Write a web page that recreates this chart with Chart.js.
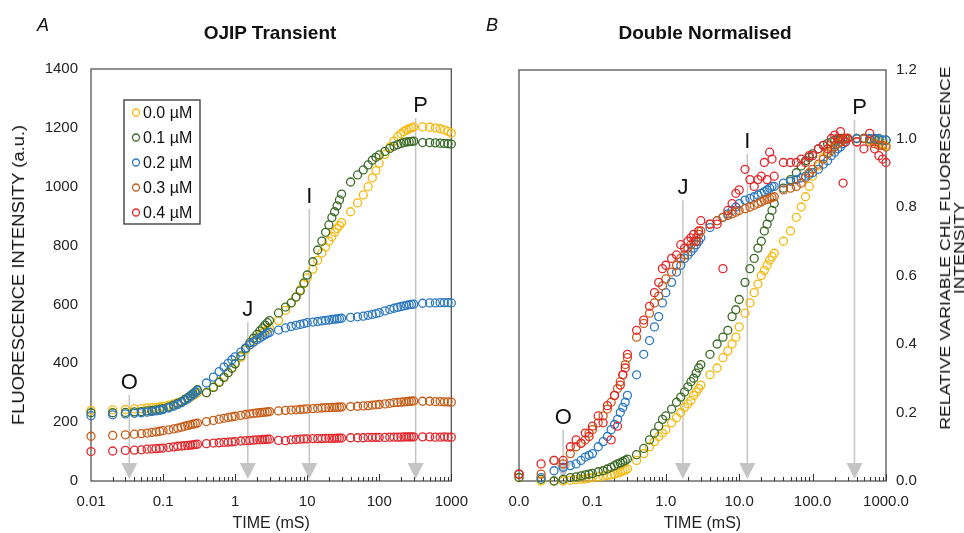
<!DOCTYPE html>
<html>
<head>
<meta charset="utf-8">
<script src="https://cdn.jsdelivr.net/npm/chart.js@4.4.1/dist/chart.umd.min.js"></script>
<style>
  body { margin: 0; background: #fff; font-family: "Liberation Sans", Arial, sans-serif; }
  #wrap { position: relative; width: 964px; height: 533px; overflow: hidden; }
  canvas { position: absolute; top: 0; }
  .txt { position: absolute; color: #111; white-space: nowrap; line-height: 20px; }
  .rot { position: absolute; color: #111; white-space: nowrap; text-align: center; }
</style>
</head>
<body>
<div id="wrap">
  <canvas id="chartA" width="480" height="533" style="left:0px"></canvas>
  <canvas id="chartB" width="484" height="533" style="left:480px"></canvas>
  <div class="txt" style="left:37px;top:15px;font-size:18px;font-style:italic">A</div>
  <div class="txt" style="left:170px;top:23px;width:200px;text-align:center;font-size:19px;font-weight:bold">OJIP Transient</div>
  <div class="txt" style="left:486px;top:15px;font-size:18px;font-style:italic">B</div>
  <div class="txt" style="left:605px;top:23px;width:200px;text-align:center;font-size:19px;font-weight:bold">Double Normalised</div>
  <div class="rot" style="left:19px;top:275px;font-size:16px;line-height:16px;transform:translate(-50%,-50%) rotate(-90deg) scaleX(1.15)">FLUORESCENCE INTENSITY (a.u.)</div>
  <div class="rot" style="left:952px;top:248px;font-size:14px;line-height:14px;transform:translate(-50%,-50%) rotate(-90deg) scaleX(1.26)">RELATIVE VARIABLE CHL FLUORESCENCE<br>INTENSITY</div>
</div>
<script>
const FONT = '"Liberation Sans", Arial, sans-serif'

// sample times (ms), shared by every series
const times = [
  0.01, 0.02, 0.03, 0.04, 0.05, 0.06, 0.07, 0.08, 0.09, 0.1, 0.12, 0.14, 0.16, 0.18, 0.2, 0.22, 0.24, 0.26, 0.28, 0.3,
  0.4, 0.5, 0.6, 0.7, 0.8, 0.9, 1, 1.2, 1.4, 1.6, 1.8, 2, 2.2, 2.4, 2.6, 2.8, 3,
  4, 5, 6, 7, 8, 9, 10, 12, 14, 16, 18, 20, 22, 24, 26, 28, 30,
  40, 50, 60, 70, 80, 90, 100, 120, 140, 160, 180, 200, 220, 240, 260, 280, 300,
  400, 500, 600, 700, 800, 900, 1000,
]

const seriesNames = ['0.0 µM', '0.1 µM', '0.2 µM', '0.3 µM', '0.4 µM']
const seriesColors = ['#f4b90f', '#3b6a27', '#2b78c0', '#c65b16', '#e2262b']

// panel A: raw fluorescence (a.u.)
const rawY0 = [
  240, 242, 243, 245, 246, 248, 249, 250, 252, 254, 258, 262, 266, 270, 275, 280, 285, 290, 295, 300,
  300, 320, 338, 353, 368, 385, 400, 420, 445, 462, 475, 485, 495, 503, 510, 515, 520,
  545, 580, 605, 625, 650, 670, 690, 720, 750, 775, 795, 815, 830, 845, 858, 868, 878,
  915, 945, 972, 1000, 1030, 1055, 1080, 1110, 1135, 1155, 1170, 1180, 1188, 1193, 1197, 1200, 1203,
  1203, 1202, 1200, 1197, 1193, 1188, 1182,
]
const rawY1 = [
  232, 232, 233, 235, 236, 238, 240, 242, 244, 246, 252, 258, 264, 270, 277, 283, 290, 297, 303, 310,
  300, 318, 335, 352, 368, 383, 398, 425, 450, 470, 485, 498, 510, 520, 530, 538, 545,
  571, 591, 605, 625, 646, 673, 700, 745, 785, 815, 845, 870, 895, 915, 935, 955, 975,
  1016, 1040, 1057, 1074, 1090, 1100, 1108, 1120, 1130, 1138, 1143, 1147, 1150, 1152, 1153, 1154, 1155,
  1150, 1150, 1149, 1148, 1147, 1146, 1145,
]
const rawY2 = [
  222, 225, 228, 230, 232, 234, 236, 238, 240, 243, 248, 254, 260, 266, 273, 280, 287, 293, 300, 307,
  333, 353, 372, 387, 400, 412, 422, 438, 452, 463, 472, 480, 486, 492, 497, 501, 505,
  513, 520, 525, 529, 532, 535, 538, 540, 542, 544, 546, 547, 549, 550, 551, 552, 553,
  556, 558, 560, 563, 566, 569, 572, 578, 583, 587, 590, 593, 595, 597, 599, 600, 601,
  604, 605, 605, 606, 606, 606, 605,
]
const rawY3 = [
  152, 155, 157, 159, 161, 163, 165, 167, 169, 171, 174, 177, 180, 183, 186, 189, 191, 193, 195, 197,
  202, 206, 210, 213, 216, 218, 220, 223, 226, 228, 230, 231, 232, 233, 234, 235, 236,
  238, 240, 241, 242, 243, 244, 245, 246, 247, 248, 249, 249, 250, 250, 251, 251, 252,
  253, 254, 255, 256, 258, 259, 260, 262, 264, 266, 267, 268, 269, 270, 271, 271, 272,
  271, 271, 270, 270, 269, 269, 268,
]
const rawY4 = [
  100, 102, 104, 105, 106, 108, 109, 110, 111, 112, 114, 116, 118, 119, 120, 121, 122, 123, 124, 125,
  127, 129, 130, 131, 132, 133, 134, 136, 137, 138, 139, 140, 140, 141, 141, 142, 142,
  138, 137, 140, 141, 142, 143, 143, 144, 144, 144, 145, 145, 145, 145, 146, 146, 146,
  147, 147, 147, 148, 148, 148, 148, 148, 149, 149, 149, 149, 150, 150, 150, 150, 150,
  150, 150, 149, 149, 150, 149, 149,
]

// panel B: double normalised
const normY0 = [
  0.01, 0.0, 0.0, 0.0, 0.002, 0.004, 0.005, 0.006, 0.008, 0.01, 0.012, 0.014, 0.016, 0.018, 0.02, 0.023, 0.026, 0.029, 0.032, 0.035,
  0.06, 0.08, 0.10, 0.115, 0.13, 0.14, 0.15, 0.17, 0.185, 0.20, 0.215, 0.225, 0.235, 0.25, 0.26, 0.27, 0.28,
  0.31, 0.33, 0.36, 0.38, 0.40, 0.42, 0.45, 0.49, 0.52, 0.55, 0.575, 0.60, 0.615, 0.63, 0.645, 0.655, 0.665,
  0.70, 0.73, 0.77, 0.80, 0.83, 0.86, 0.89, 0.92, 0.945, 0.96, 0.97, 0.98, 0.985, 0.99, 0.995, 0.998, 1.0,
  1.0, 1.0, 0.995, 0.99, 0.99, 0.985, 0.98,
]
const normY1 = [
  0.01, 0.005, 0.0, 0.005, 0.01, 0.012, 0.015, 0.018, 0.02, 0.022, 0.027, 0.03, 0.035, 0.04, 0.045, 0.05, 0.053, 0.057, 0.06, 0.064,
  0.077, 0.095, 0.12, 0.14, 0.16, 0.18, 0.19, 0.21, 0.23, 0.245, 0.26, 0.275, 0.29, 0.30, 0.315, 0.33, 0.34,
  0.37, 0.40, 0.42, 0.44, 0.48, 0.50, 0.53, 0.58, 0.62, 0.65, 0.68, 0.70, 0.73, 0.75, 0.77, 0.79, 0.81,
  0.855, 0.88, 0.90, 0.92, 0.935, 0.945, 0.955, 0.97, 0.98, 0.985, 0.99, 0.995, 1.0, 1.0, 1.0, 1.0, 1.0,
  1.0, 1.0, 0.998, 0.997, 0.996, 0.995, 0.995,
]
const normY2 = [
  0.02, 0.01, 0.03, 0.04, 0.045, 0.05, 0.06, 0.07, 0.075, 0.08, 0.10, 0.115, 0.13, 0.15, 0.165, 0.18, 0.20, 0.215, 0.23, 0.25,
  0.31, 0.37, 0.41, 0.45, 0.48, 0.52, 0.55, 0.58, 0.61, 0.63, 0.65, 0.66, 0.67, 0.68, 0.69, 0.70, 0.71,
  0.74, 0.76, 0.77, 0.78, 0.79, 0.80, 0.81, 0.82, 0.825, 0.83, 0.835, 0.84, 0.845, 0.85, 0.855, 0.86, 0.86,
  0.87, 0.875, 0.88, 0.885, 0.89, 0.895, 0.90, 0.91, 0.925, 0.935, 0.95, 0.96, 0.97, 0.975, 0.985, 0.99, 1.0,
  1.0, 1.0, 1.0, 1.0, 1.0, 0.995, 0.995,
]
const normY3 = [
  0.02, 0.02, 0.06, 0.05, 0.08, 0.10, 0.11, 0.12, 0.14, 0.15, 0.17, 0.19, 0.21, 0.23, 0.25, 0.27, 0.29, 0.31, 0.34, 0.36,
  0.42, 0.46, 0.49, 0.52, 0.54, 0.57, 0.59, 0.61, 0.63, 0.65, 0.66, 0.68, 0.69, 0.70, 0.71, 0.72, 0.73,
  0.75, 0.76, 0.77, 0.775, 0.78, 0.785, 0.79, 0.795, 0.80, 0.805, 0.81, 0.815, 0.82, 0.822, 0.825, 0.828, 0.83,
  0.85, 0.855, 0.86, 0.87, 0.885, 0.90, 0.91, 0.925, 0.94, 0.955, 0.965, 0.975, 0.985, 0.99, 0.995, 1.0, 1.0,
  0.99, 1.0, 0.99, 0.985, 0.98, 0.98, 0.975,
]
const normY4 = [
  0.02, 0.05, 0.06, 0.06, 0.10, 0.12, 0.11, 0.14, 0.13, 0.16, 0.19, 0.17, 0.22, 0.12, 0.25, 0.16, 0.28, 0.31, 0.33, 0.37,
  0.44, 0.47, 0.51, 0.55, 0.58, 0.62, 0.63, 0.65, 0.66, 0.69, 0.68, 0.70, 0.71, 0.72, 0.70, 0.73, 0.76,
  0.75, 0.75, 0.62, 0.79, 0.81, 0.84, 0.85, 0.91, 0.88, 0.86, 0.88, 0.89, 0.93, 0.88, 0.96, 0.94, 0.89,
  0.93, 0.93, 0.93, 0.94, 0.93, 0.95, 0.95, 0.97, 0.98, 0.97, 1.0, 1.01, 1.0, 1.02, 0.87, 0.99, 1.0,
  0.99, 0.97, 1.015, 0.97, 0.95, 0.94, 0.93,
]

const xTicks = [0.01, 0.1, 1, 10, 100, 1000]
const xLabelsA = ['0.01', '0.1', '1', '10', '100', '1000']
const xLabelsB = ['0.0', '0.1', '1.0', '10.0', '100.0', '1000.0']
const yTicksA = [0, 200, 400, 600, 800, 1000, 1200, 1400]
const yTicksB = [0, 0.2, 0.4, 0.6, 0.8, 1.0, 1.2]

const markerNames = ['O', 'J', 'I', 'P']
const markerTimesA = [0.034, 1.5, 10.7, 320]
const markerLevelA = [333, 580, 965, 1274]
const markerTimesB = [0.04, 1.71, 12.9, 372]
const markerLevelB = [0.184, 0.855, 0.99, 1.09]

const makeDatasets = (seriesList) =>
  seriesList.map((vals, i) => ({
    label: seriesNames[i],
    data: times.map((t, k) => ({ x: t, y: vals[k] })),
    borderColor: seriesColors[i],
    backgroundColor: 'rgba(0,0,0,0)',
    pointRadius: 4,
    pointBorderWidth: 1.3,
    pointHoverRadius: 4,
    showLine: false,
    clip: false,
    order: seriesList.length - i,
  }))

// frame, inner log ticks and the O-J-I-P markers
const decor = {
  id: 'decor',
  beforeDatasetsDraw(chart, args, opts) {
    const { ctx, chartArea: ca } = chart
    const xs = chart.scales.x
    const ys = chart.scales.y
    ctx.save()

    ctx.strokeStyle = '#555'
    ctx.lineWidth = 1.3
    ctx.strokeRect(ca.left, ca.top, ca.right - ca.left, ca.bottom - ca.top)

    ctx.lineWidth = 1
    ctx.strokeStyle = '#333'
    for (let d = 0; d < xTicks.length - 1; d++) {
      for (let m = 2; m <= 10; m++) {
        const px = Math.round(xs.getPixelForValue(xTicks[d] * m)) + 0.5
        const len = m === 10 ? 7 : 4
        ctx.beginPath()
        ctx.moveTo(px, ca.bottom)
        ctx.lineTo(px, ca.bottom - len)
        ctx.stroke()
      }
    }

    ctx.font = '22px ' + FONT
    ctx.textAlign = 'center'
    ctx.textBaseline = 'middle'
    opts.times.forEach((t, i) => {
      const px = xs.getPixelForValue(t)
      const py = ys.getPixelForValue(opts.levels[i])
      const name = markerNames[i]
      ctx.fillStyle = '#111'
      ctx.fillText(name, px + (name === 'P' ? 5 : 0), py)
      ctx.strokeStyle = '#c4c4c4'
      ctx.lineWidth = 1.5
      ctx.beginPath()
      ctx.moveTo(px, py + 12)
      ctx.lineTo(px, ca.bottom - 16)
      ctx.stroke()
      ctx.fillStyle = '#c4c4c4'
      ctx.beginPath()
      ctx.moveTo(px - 8, ca.bottom - 18)
      ctx.lineTo(px + 8, ca.bottom - 18)
      ctx.lineTo(px, ca.bottom - 2)
      ctx.closePath()
      ctx.fill()
    })
    ctx.restore()
  },
}

const boxLegend = {
  id: 'boxLegend',
  afterDraw(chart, args, opts) {
    if (!opts.show) return
    const { ctx, chartArea: ca } = chart
    const left = ca.left + 33
    const top = ca.top + 31
    ctx.save()
    ctx.fillStyle = '#fff'
    ctx.fillRect(left, top, 76, 124)
    ctx.strokeStyle = '#333'
    ctx.lineWidth = 1.3
    ctx.strokeRect(left, top, 76, 124)
    ctx.font = '16px ' + FONT
    ctx.textBaseline = 'middle'
    ctx.textAlign = 'left'
    chart.data.datasets.forEach((ds, i) => {
      const cy = top + 12.5 + i * 25
      ctx.strokeStyle = ds.borderColor
      ctx.lineWidth = 1.3
      ctx.beginPath()
      ctx.arc(left + 12, cy, 3.5, 0, Math.PI * 2)
      ctx.stroke()
      ctx.fillStyle = '#111'
      ctx.fillText(ds.label, left + 19, cy + 1)
    })
    ctx.restore()
  },
}

const tickFont = { size: 15, family: FONT }

const xScale = (labels) => ({
  type: 'logarithmic',
  min: 0.01,
  max: 1000,
  grid: { display: false, drawTicks: false },
  border: { display: false },
  afterBuildTicks: (s) => { s.ticks = xTicks.map((v) => ({ value: v })) },
  afterFit: (s) => { s.height = 52 },
  ticks: { callback: (v, i) => labels[i], font: tickFont, color: '#222', padding: 12, autoSkip: false, maxRotation: 0 },
  title: { display: true, text: 'TIME (mS)', font: { size: 16, family: FONT }, color: '#222', padding: { top: 0, bottom: 0 } },
})

const chartA = new Chart(document.getElementById('chartA'), {
  type: 'scatter',
  data: { datasets: makeDatasets([rawY0, rawY1, rawY2, rawY3, rawY4]) },
  options: {
    responsive: false,
    animation: false,
    layout: { padding: { top: 69, right: 22, left: 0, bottom: 0 } },
    plugins: {
      legend: { display: false },
      tooltip: { enabled: false },
      decor: { times: markerTimesA, levels: markerLevelA },
      boxLegend: { show: true },
    },
    scales: {
      x: xScale(xLabelsA),
      y: {
        type: 'linear',
        min: 0,
        max: 1400,
        grid: { display: false, drawTicks: false },
        border: { display: false },
        afterBuildTicks: (s) => { s.ticks = yTicksA.map((v) => ({ value: v })) },
        afterFit: (s) => { s.width = 91 },
        ticks: { callback: (v) => String(v), font: tickFont, color: '#222', padding: 13 },
      },
    },
  },
  plugins: [decor, boxLegend],
})

const chartB = new Chart(document.getElementById('chartB'), {
  type: 'scatter',
  data: { datasets: makeDatasets([normY0, normY1, normY2, normY3, normY4]) },
  options: {
    responsive: false,
    animation: false,
    layout: { padding: { top: 70, right: 0, left: 39, bottom: 0 } },
    plugins: {
      legend: { display: false },
      tooltip: { enabled: false },
      decor: { times: markerTimesB, levels: markerLevelB },
      boxLegend: { show: false },
    },
    scales: {
      x: xScale(xLabelsB),
      y: {
        type: 'linear',
        position: 'right',
        min: 0,
        max: 1.2,
        grid: { display: false, drawTicks: false },
        border: { display: false },
        afterBuildTicks: (s) => { s.ticks = yTicksB.map((v) => ({ value: v })) },
        afterFit: (s) => { s.width = 78 },
        ticks: { callback: (v) => v.toFixed(1), font: tickFont, color: '#222', padding: 10 },
      },
    },
  },
  plugins: [decor, boxLegend],
})
</script>
</body>
</html>
